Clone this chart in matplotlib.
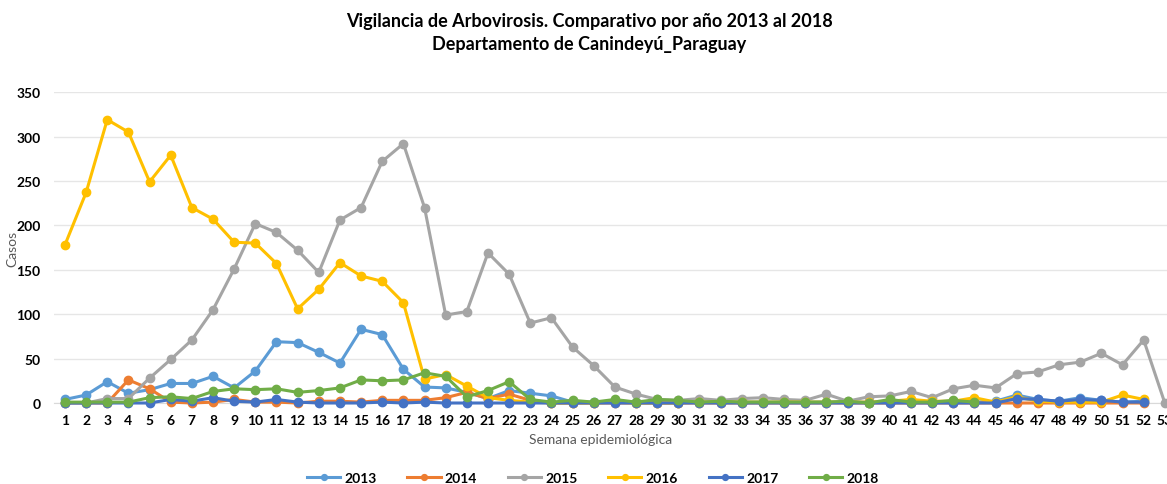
import numpy as np
import matplotlib.pyplot as plt

# Datos: casos por semana epidemiológica
semanas = list(range(1, 54))

casos_2013 = [4, 9, 24, 11, 15, 22, 22, 30, 17, 36, 69, 68, 57, 45, 83, 77, 38, 18, 17, 12,
              5, 14, 11, 8, 1, 1, 1, 1, 1, 1, 1, 1, 1, 1, 1, 1, 1, 1, 1, 1,
              1, 1, 2, 1, 2, 9, 4, 2, 6, 3, 1, 2]
casos_2014 = [0, 0, 0, 26, 16, 1, 0, 1, 4, 1, 1, 0, 2, 2, 1, 3, 3, 3, 6, 12,
              5, 10, 3, 0, 0, 0, 0, 0, 0, 0, 0, 0, 0, 0, 0, 0, 0, 0, 0, 0,
              0, 0, 0, 0, 0, 0, 0, 0, 0, 0, 0, 0]
casos_2015 = [0, 0, 5, 5, 28, 49, 71, 105, 151, 202, 192, 172, 147, 206, 220, 272, 292, 220, 99, 103,
              169, 145, 90, 96, 63, 42, 18, 10, 4, 3, 5, 3, 5, 6, 4, 3, 10, 2, 7, 8,
              13, 6, 16, 20, 17, 33, 35, 43, 46, 56, 43, 71, 0]
casos_2016 = [178, 237, 319, 305, 249, 279, 220, 207, 181, 180, 157, 106, 128, 158, 143, 137, 113, 27, 32, 19,
              6, 3, 1, 0, 0, 0, 1, 0, 0, 0, 1, 1, 1, 1, 1, 1, 1, 1, 1, 2,
              4, 2, 2, 6, 1, 7, 2, 1, 1, 1, 9, 4]
casos_2017 = [0, 0, 0, 0, 0, 4, 2, 6, 2, 1, 4, 1, 0, 0, 0, 1, 0, 1, 0, 0,
              0, 0, 0, 0, 0, 0, 0, 0, 0, 0, 0, 0, 0, 0, 0, 0, 0, 0, 0, 0,
              0, 0, 0, 0, 0, 5, 4, 2, 4, 3, 1, 1]
casos_2018 = [1, 1, 1, 1, 6, 7, 5, 13, 16, 15, 16, 12, 14, 17, 26, 25, 26, 34, 30, 7,
              14, 24, 4, 1, 3, 1, 4, 1, 4, 3, 1, 2, 1, 1, 1, 1, 1, 2, 0, 4,
              1, 1, 3, 1]

series = [
    ("2013", casos_2013, "#5B9BD5"),
    ("2014", casos_2014, "#ED7D31"),
    ("2015", casos_2015, "#A5A5A5"),
    ("2016", casos_2016, "#FFC000"),
    ("2017", casos_2017, "#4472C4"),
    ("2018", casos_2018, "#70AD47"),
]

plt.rcParams['font.family'] = ['Lato', 'DejaVu Sans']

fig = plt.figure(figsize=(11.67, 4.85), dpi=100)
# el eje se extiende un poco más allá del borde derecho (como en la imagen original)
ax = fig.add_axes([0.0466, 0.167, 0.9606, 0.641])

for nombre, valores, color in series:
    x = semanas[:len(valores)]
    ax.plot(x, valores, color=color, linewidth=2.2, marker='o', markersize=6,
            label=nombre, clip_on=False, zorder=3)

ax.set_xlim(0.5, 53.5)
ax.set_ylim(0, 350)
ax.set_xticks(semanas)
ax.set_yticks(range(0, 351, 50))
ax.tick_params(axis='both', length=0, labelsize=10)
for lbl in ax.get_xticklabels() + ax.get_yticklabels():
    lbl.set_fontweight('bold')
ax.tick_params(axis='x', pad=8)
ax.tick_params(axis='y', pad=10)

ax.grid(axis='y', color='#E6E6E6', linewidth=1)
ax.set_axisbelow(True)
for s in ['top', 'right', 'left']:
    ax.spines[s].set_visible(False)
ax.spines['bottom'].set_color('#D9D9D9')

ax.set_ylabel("Casos", color='#595959', fontsize=10, labelpad=4)
ax.yaxis.set_label_coords(-0.032, 0.5)
fig.text(0.515, 0.085, "Semana epidemiológica", color='#595959', fontsize=10, ha='center')

fig.text(0.505, 0.955, "Vigilancia de Arbovirosis. Comparativo por año 2013 al 2018",
         fontsize=13, fontweight='bold', ha='center', va='center')
fig.text(0.505, 0.908, "Departamento de Canindeyú_Paraguay",
         fontsize=13, fontweight='bold', ha='center', va='center')

fig.legend(loc='center', bbox_to_anchor=(0.508, 0.013), ncol=6, frameon=False,
           prop={'weight': 'bold', 'size': 10}, markerscale=0.7,
           handlelength=2.4, columnspacing=2.2, handletextpad=0.3)

fig.savefig("out.png", dpi=100)
